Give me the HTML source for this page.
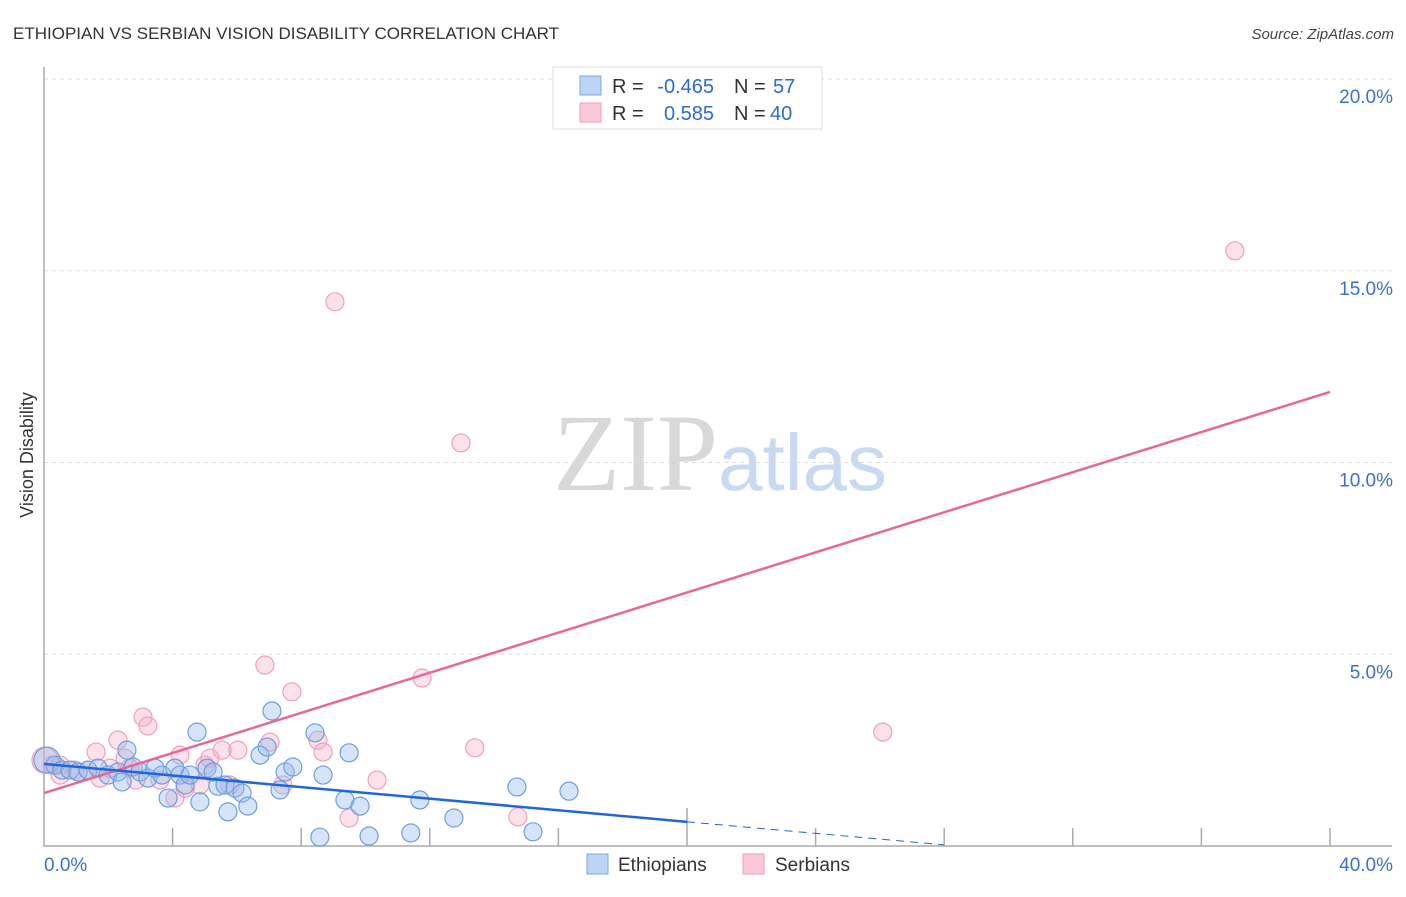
<!DOCTYPE html>
<html><head><meta charset="utf-8"><style>
body{margin:0;background:#fff;font-family:"Liberation Sans",sans-serif}
</style></head><body>
<svg id="chart" width="1406" height="892" xmlns="http://www.w3.org/2000/svg" font-family="Liberation Sans, sans-serif">
<text x="13" y="39" font-size="17" fill="#333">ETHIOPIAN VS SERBIAN VISION DISABILITY CORRELATION CHART</text>
<text x="1394" y="39" font-size="15" fill="#444" text-anchor="end" font-style="italic">Source: ZipAtlas.com</text>
<text x="720" y="490" font-size="110" text-anchor="middle" font-family="Liberation Serif, serif"><tspan fill="#d8d8d8">ZIP</tspan><tspan fill="#c8d9f2" font-family="Liberation Sans, sans-serif" font-size="80">atlas</tspan></text>
<text transform="translate(33,455) rotate(-90)" font-size="18" fill="#333" text-anchor="middle">Vision Disability</text>
<g id="grid"></g><g id="pts"></g><g id="lines"></g>
<g font-size="20">
<rect x="553" y="67" width="269" height="62" fill="#fff" stroke="#ddd"/>
<rect x="580" y="76" width="21" height="19" fill="#bcd5f5" stroke="#7aa7e4"/>
<rect x="580" y="103" width="21" height="19" fill="#fbc8d8" stroke="#f0a0b8"/>
<text x="612" y="93" fill="#333">R =</text>
<text x="714" y="93" fill="#2b6bd6" text-anchor="end">-0.465</text>
<text x="734" y="93" fill="#333">N =</text>
<text x="773" y="93" fill="#2b6bd6">57</text>
<text x="612" y="120" fill="#333">R =</text>
<text x="714" y="120" fill="#2b6bd6" text-anchor="end">0.585</text>
<text x="734" y="120" fill="#333">N =</text>
<text x="770" y="120" fill="#2b6bd6">40</text>
</g>
<g>
<rect x="587" y="854" width="21" height="20" fill="#bcd5f5" stroke="#7aa7e4"/>
<text x="618" y="871" font-size="19" fill="#333">Ethiopians</text>
<rect x="743" y="854" width="21" height="20" fill="#fbc8d8" stroke="#f0a0b8"/>
<text x="775" y="871" font-size="19" fill="#333">Serbians</text>
</g>
</svg>
<script>
const xTicks=[0,40];
const yTicks=[5,10,15,20];
const ethX=[0.09,0.34,0.56,0.81,1.06,1.37,1.68,1.99,2.30,2.43,2.58,2.77,2.99,3.23,3.45,3.67,3.86,4.07,4.23,4.39,4.54,4.76,4.85,5.07,5.26,5.41,5.63,5.72,5.94,6.16,6.34,6.72,6.94,7.09,7.34,7.50,7.74,8.43,8.58,8.68,9.36,9.49,9.83,10.11,11.41,11.69,12.75,14.71,15.21,16.33];
const ethY=[2.24,2.11,1.98,1.98,1.93,1.98,2.03,1.85,1.93,1.67,2.50,2.06,1.93,1.77,2.03,1.85,1.25,2.03,1.85,1.59,1.85,2.97,1.15,2.03,1.93,1.56,1.59,0.89,1.51,1.38,1.04,2.37,2.58,3.52,1.46,1.93,2.06,2.95,0.23,1.85,1.20,2.43,1.04,0.26,0.34,1.20,0.73,1.54,0.37,1.43];
const serX=[0.03,0.25,0.50,0.96,1.37,1.62,2.05,2.30,2.52,2.86,3.08,3.23,3.61,4.07,4.23,4.39,4.85,5.01,5.16,5.54,5.78,6.03,6.87,7.03,7.43,7.71,8.52,8.68,9.05,9.49,10.36,11.76,12.97,13.40,14.74,26.09,37.04,0.5,1.74,2.67];
const serY=[2.24,2.11,2.11,1.98,1.98,2.45,2.03,2.76,2.29,1.72,3.36,3.13,1.72,1.25,2.37,1.51,1.59,2.11,2.29,2.50,1.59,2.50,4.72,2.71,1.59,4.02,2.76,2.45,14.19,0.73,1.72,4.38,10.51,2.56,0.76,2.97,15.52,1.85,1.77,2.03];
const ethLine=[[0,2.14],[20,0.63]], ethDash=[[20,0.63],[28,0.03]];
const serLine=[[0,1.38],[40,11.84]];
const NS="http://www.w3.org/2000/svg";
const X=v=>44+v/40*1286, Y=v=>846-v*38.35;
function mk(t,a,p){const e=document.createElementNS(NS,t);for(const k in a)e.setAttribute(k,a[k]);document.getElementById(p).appendChild(e);return e;}
yTicks.forEach(t=>{
 const g=mk('line',{x1:44,x2:1392,y1:Y(t),y2:Y(t),stroke:'#ddd','stroke-dasharray':'4,4'},'grid');
 
 
 const l=mk('text',{x:1393,y:Y(t)+24,'font-size':19,fill:'#3a70d0','text-anchor':'end'},'grid');
 l.textContent=t.toFixed(1)+'%';
 
 
});
const ax=mk('path',{d:'M44,67V846H1392',stroke:'#aaa',fill:'none','stroke-width':1.5},'grid');


for(let i=1;i<=10;i++){const x=X(i*4);const t=mk('line',{x1:x,x2:x,y1:i==5?808:828,y2:846,stroke:'#aaa','stroke-width':1.5},'grid');
 
 }
xTicks.forEach((t,i)=>{const l=mk('text',{x:i?1393:44,y:871,'font-size':19,fill:'#3a70d0','text-anchor':i?'end':'start'},'grid');
 l.textContent=t.toFixed(1)+'%';
 
 });
serX.forEach((v,i)=>{const c=mk('circle',{cx:X(v),cy:Y(serY[i]),r:i==0?13:9,fill:'rgba(244,168,195,0.35)',stroke:'#f0a0b8','stroke-width':1.2},'pts');
 
 });
ethX.forEach((v,i)=>{const c=mk('circle',{cx:X(v),cy:Y(ethY[i]),r:i==0?13:9,fill:'rgba(150,188,238,0.4)',stroke:'#6d9fe0','stroke-width':1.2},'pts');
 
 });
const l1=mk('line',{x1:X(serLine[0][0]),y1:Y(serLine[0][1]),x2:X(serLine[1][0]),y2:Y(serLine[1][1]),stroke:'#e8679a','stroke-width':2.5},'lines');


const l2=mk('line',{x1:X(ethLine[0][0]),y1:Y(ethLine[0][1]),x2:X(ethLine[1][0]),y2:Y(ethLine[1][1]),stroke:'#2166d6','stroke-width':2.5},'lines');


const l3=mk('line',{x1:X(ethDash[0][0]),y1:Y(ethDash[0][1]),x2:X(ethDash[1][0]),y2:Y(ethDash[1][1]),stroke:'#2166d6','stroke-width':1,'stroke-dasharray':'8,6'},'lines');


</script>
</body></html>
